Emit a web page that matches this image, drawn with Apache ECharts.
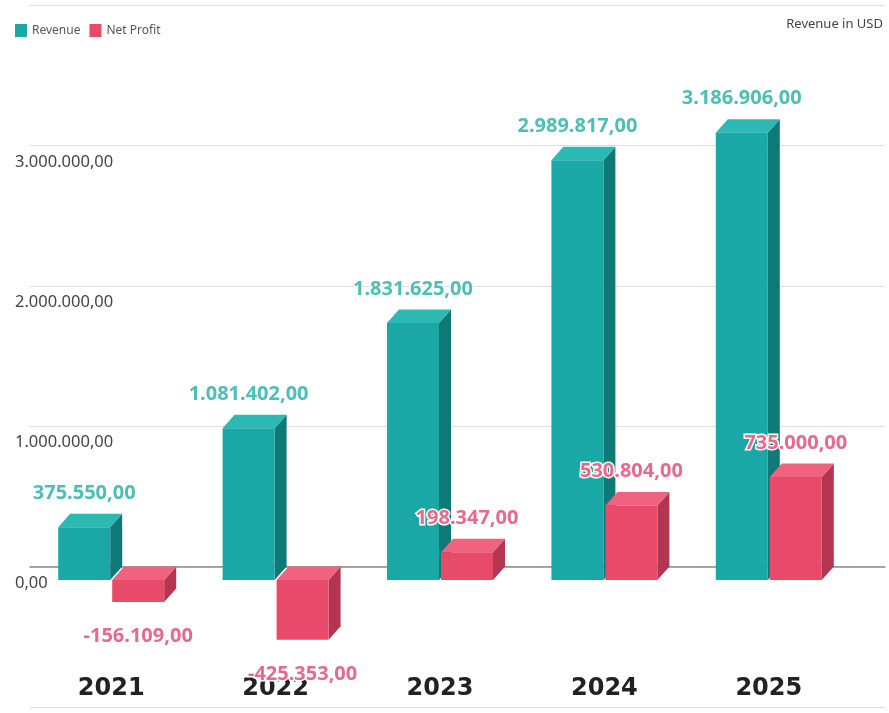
<!DOCTYPE html>
<html>
<head>
<meta charset="utf-8">
<script src="https://cdn.jsdelivr.net/npm/echarts@6/dist/echarts.min.js"></script>
<style>html,body{margin:0;padding:0;background:#fff;}#c{width:889px;height:713px;}</style>
</head>
<body>
<div id="c"></div>
<script>
var years = ['2021', '2022', '2023', '2024', '2025'];
var revenue = [375550, 1081402, 1831625, 2989817, 3186906];
var netProfit = [-156109, -425353, 198347, 530804, 735000];
var seriesNames = ['Revenue', 'Net Profit'];

function fmt(v) {
  var neg = v < 0;
  var s = Math.abs(v).toFixed(2).split('.');
  var intPart = s[0].replace(/\B(?=(\d{3})+(?!\d))/g, '.');
  return (neg ? '-' : '') + intPart + ',' + s[1];
}

var palettes = [
  { front: '#19a8a6', top: '#2cb8b3', side: '#0e7a77', label: '#4cbfb7' },
  { front: '#e84a6a', top: '#f0637f', side: '#b3354f', label: '#e56a8c' }
];

function makeRender(si) {
  return function (params, api) {
    var idx = api.value(0), val = api.value(1);
    var base = api.coord([idx, 0]);
    var tip = api.coord([idx, val]);
    var cx = base[0];
    var w = 52, dx = 12, dy = 13.5;
    var fl = si === 0 ? cx - 53 : cx + 1;
    var yHi = Math.min(base[1], tip[1]);
    var yLo = Math.max(base[1], tip[1]);
    var p = palettes[si];
    var ly = val >= 0 ? yHi + dy - 34 : yLo + dy + 34;
    return {
      type: 'group',
      children: [
        { type: 'polygon', shape: { points: [[fl + w, yHi + dy], [fl + w + dx, yHi], [fl + w + dx, yLo], [fl + w, yLo + dy]] }, style: { fill: p.side } },
        { type: 'polygon', shape: { points: [[fl, yHi + dy], [fl + w, yHi + dy], [fl + w + dx, yHi], [fl + dx, yHi]] }, style: { fill: p.top } },
        { type: 'rect', shape: { x: fl, y: yHi + dy, width: w, height: yLo - yHi }, style: { fill: p.front } },
        { type: 'text', z2: 10, style: { text: fmt(val), x: fl + w / 2, y: ly, align: 'center', verticalAlign: 'middle', fill: p.label, fontSize: 20, fontWeight: 'bold', fontFamily: 'Noto Sans', stroke: '#fff', lineWidth: 3 } }
      ]
    };
  };
}

var chart = echarts.init(document.getElementById('c'), null, { renderer: 'canvas' });
chart.setOption({
  animation: false,
  backgroundColor: '#fff',
  title: {
    text: 'Revenue in USD', right: 1, top: 13,
    textStyle: { fontSize: 13, fontWeight: 'normal', color: '#444', fontFamily: 'Noto Sans' }
  },
  legend: {
    left: 10, top: 19, itemWidth: 12, itemHeight: 13, itemGap: 9, icon: 'rect',
    textStyle: { fontSize: 12, color: '#555', fontFamily: 'Noto Sans' },
    data: [
      { name: seriesNames[0], itemStyle: { color: palettes[0].front } },
      { name: seriesNames[1], itemStyle: { color: palettes[1].front } }
    ]
  },
  grid: [
    { left: 30, right: 4, top: 5, bottom: 6 },
    { left: 29, right: 38, top: 5, bottom: 6 }
  ],
  xAxis: [
    {
      gridIndex: 0, type: 'value', min: 0, max: 1,
      axisLine: { show: true, onZero: true, lineStyle: { color: '#8a8a8a', width: 1.5 } },
      axisTick: { show: false }, axisLabel: { show: false }, splitLine: { show: false }
    },
    {
      gridIndex: 1, type: 'category', data: years, position: 'bottom',
      axisLine: { show: false, onZero: false }, axisTick: { show: false },
      axisLabel: { margin: -30, fontSize: 24, fontWeight: 'bold', color: '#222', fontFamily: 'DejaVu Sans' }
    }
  ],
  yAxis: [
    {
      gridIndex: 0, type: 'value', min: -1000000, max: 4000000, interval: 1000000,
      axisLine: { show: false }, axisTick: { show: false },
      splitLine: { show: true, lineStyle: { color: '#dedede', width: 1 } },
      axisLabel: {
        align: 'left', margin: 15, verticalAlign: 'top', padding: [8, 0, 0, 0],
        fontSize: 16.5, color: '#444', fontFamily: 'Noto Sans',
        formatter: function (v) { return (v < 0 || v > 3000000) ? '' : fmt(v); }
      }
    },
    {
      gridIndex: 1, type: 'value', min: -1000000, max: 4000000, interval: 1000000,
      show: false, splitLine: { show: false }
    }
  ],
  series: [
    {
      name: seriesNames[0], type: 'custom', xAxisIndex: 1, yAxisIndex: 1,
      itemStyle: { color: palettes[0].front },
      renderItem: makeRender(0),
      data: revenue.map(function (v, i) { return [i, v]; })
    },
    {
      name: seriesNames[1], type: 'custom', xAxisIndex: 1, yAxisIndex: 1,
      itemStyle: { color: palettes[1].front },
      renderItem: makeRender(1),
      data: netProfit.map(function (v, i) { return [i, v]; })
    }
  ]
});
</script>
</body>
</html>
